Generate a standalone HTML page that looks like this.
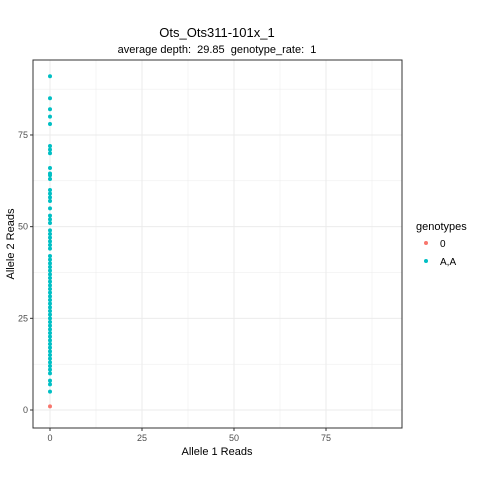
<!DOCTYPE html>
<html><head><meta charset="utf-8"><style>
body{margin:0;background:#fff;font-family:"Liberation Sans",sans-serif}
svg text{font-family:"Liberation Sans",sans-serif;white-space:pre}
</style></head><body>
<svg id="c" width="480" height="480" xmlns="http://www.w3.org/2000/svg">
<rect width="480" height="480" fill="#fff"/>
<text x="217" y="37" font-size="13" text-anchor="middle">Ots_Ots311-101x_1</text>
<text x="217" y="53" font-size="11" text-anchor="middle" xml:space="preserve">average depth:  29.85  genotype_rate:  1</text>
<g id="grid"></g><g id="pts"></g><g id="axes"></g>
<text x="217" y="455" font-size="11" text-anchor="middle">Allele 1 Reads</text>
<text transform="translate(14,244) rotate(-90)" font-size="11" text-anchor="middle">Allele 2 Reads</text>
<g>
<text x="416" y="230" font-size="11">genotypes</text>
<circle cx="426" cy="243" r="2" fill="#F8766D"/>
<text x="440" y="247" font-size="10">0</text>
<circle cx="426" cy="261" r="2" fill="#00BFC4"/>
<text x="440" y="265" font-size="10">A,A</text>
</g>
</svg>
<script>
const xTicks=[0,25,50,75];
const yTicks=[0,25,50,75];
const aaY=[91,85,82,80,78,72,71,70,66,64.5,64,63,60,59,58,57,55,53,52,51,49,48,47,46,45,44,42,41,40,39,38,37,36,35,34,33,32,31,30,29,28,27,26,25,24,23,22,21,20,19,18,17,16,15,14,13,12,11,10,8,7,5];
const aaX=aaY.map(()=>0);
const zeroY=[1];
const zeroX=[0];
const L=33,R=402,T=60,B=428;
const sx=v=>50+v*3.68, sy=v=>410-v*3.667;
const NS="http://www.w3.org/2000/svg";
function mk(t,a,p){const e=document.createElementNS(NS,t);for(const k in a)e.setAttribute(k,a[k]);p.appendChild(e);return e;}
const g=document.getElementById('grid'),ax=document.getElementById('axes'),pts=document.getElementById('pts');
for(let v=-12.5;v<=100;v+=12.5){
 const major=v%25===0;
 const x=sx(v); if(x>L&&x<R){const l=mk('line',{x1:x,x2:x,y1:T,y2:B,stroke:'#ebebeb','stroke-width':major?1:0.5},g);
 
 }
 const y=sy(v); if(y>T&&y<B){const l=mk('line',{x1:L,x2:R,y1:y,y2:y,stroke:'#ebebeb','stroke-width':major?1:0.5},g);
 
 }
}
const fr=mk('rect',{x:L,y:T,width:R-L,height:B-T,fill:'none',stroke:'#333','stroke-width':1},ax);


xTicks.forEach(v=>{const x=sx(v);
 mk('line',{x1:x,x2:x,y1:B,y2:B+3,stroke:'#333'},ax);
 const t=mk('text',{x:x,y:B+13,'font-size':9,'text-anchor':'middle',fill:'#4d4d4d'},ax);t.textContent=v;
 
 });
yTicks.forEach(v=>{const y=sy(v);
 mk('line',{x1:L-3,x2:L,y1:y,y2:y,stroke:'#333'},ax);
 const t=mk('text',{x:L-5,y:y+3,'font-size':9,'text-anchor':'end',fill:'#4d4d4d'},ax);t.textContent=v;
 
 });
aaY.forEach((v,i)=>{const c=mk('circle',{cx:sx(aaX[i]),cy:sy(v),r:2,fill:'#00BFC4'},pts);
 
 });
zeroY.forEach((v,i)=>{const c=mk('circle',{cx:sx(zeroX[i]),cy:sy(v),r:2,fill:'#F8766D'},pts);
 
 });
</script>
</body></html>
